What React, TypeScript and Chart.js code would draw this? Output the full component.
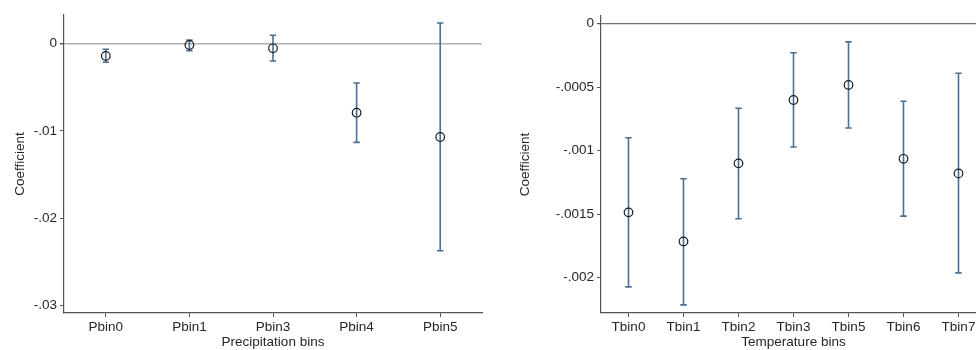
import React, { useEffect, useRef } from "react";
import { Chart, registerables } from "chart.js";

Chart.register(...registerables);

// ---- Precipitation panel data ----
const precipBins = ["Pbin0", "Pbin1", "Pbin3", "Pbin4", "Pbin5"];
const precipCoef = [-0.00141, -0.00015, -0.00053, -0.00791, -0.0107];
const precipLow = [-0.00213, -0.0008, -0.00198, -0.01131, -0.02374];
const precipHigh = [-0.00064, 0.00042, 0.00096, -0.00451, 0.00237];
const precipTicks = [0, -0.01, -0.02, -0.03];

// ---- Temperature panel data ----
const tempBins = ["Tbin0", "Tbin1", "Tbin2", "Tbin3", "Tbin5", "Tbin6", "Tbin7"];
const tempCoef = [-0.001487, -0.001716, -0.001101, -0.000602, -0.000483, -0.001065, -0.00118];
const tempLow = [-0.002074, -0.002216, -0.001538, -0.000972, -0.000823, -0.001517, -0.001964];
const tempHigh = [-0.000899, -0.001222, -0.000667, -0.000229, -0.000144, -0.000612, -0.000391];
const tempTicks = [0, -0.0005, -0.001, -0.0015, -0.002];

const FONT = "'Liberation Sans', Arial, sans-serif";
const TEXT = "#262626";
const AXIS = "#555555";
const BAR = "#4a6f94";

const fmt = (v: number) => (v === 0 ? "0" : String(v).replace(/^(-?)0\./, "$1."));

type PanelCfg = {
  cats: string[];
  coef: number[];
  low: number[];
  high: number[];
  yTicks: number[];
  yMin: number;
  yMax: number;
  xMax: number;
  yWidth: number;
  titlePad: number;
  padTop: number;
  padRight: number;
  xTitle: string;
  zeroColor: string;
  zeroWidth: number;
};

function makeErrorBarPlugin(cfg: PanelCfg) {
  return {
    id: "errorBars",
    beforeDatasetsDraw(chart: any) {
      const { ctx, scales } = chart;
      const xs = scales.x;
      const ys = scales.y;
      ctx.save();
      ctx.strokeStyle = BAR;
      ctx.lineWidth = 1.6;
      cfg.cats.forEach((_, i) => {
        const x = xs.getPixelForValue(i);
        const y1 = ys.getPixelForValue(cfg.low[i]);
        const y2 = ys.getPixelForValue(cfg.high[i]);
        ctx.beginPath();
        ctx.moveTo(x, y1);
        ctx.lineTo(x, y2);
        ctx.moveTo(x - 3.2, y1);
        ctx.lineTo(x + 3.2, y1);
        ctx.moveTo(x - 3.2, y2);
        ctx.lineTo(x + 3.2, y2);
        ctx.stroke();
      });
      ctx.restore();
    },
  };
}

function Panel({ cfg, left, width }: { cfg: PanelCfg; left: number; width: number }) {
  const ref = useRef<HTMLCanvasElement>(null);
  useEffect(() => {
    if (!ref.current) return;
    const chart = new Chart(ref.current, {
      type: "scatter",
      data: {
        datasets: [
          {
            data: cfg.coef.map((y, i) => ({ x: i, y })),
            showLine: false,
            pointRadius: 4.3,
            pointBorderWidth: 1.2,
            pointBorderColor: "#1a1a1a",
            pointBackgroundColor: "rgba(0,0,0,0)",
          },
        ],
      },
      options: {
        responsive: false,
        animation: false,
        events: [],
        layout: { padding: { top: cfg.padTop, right: cfg.padRight, left: 0, bottom: 0 } },
        plugins: { legend: { display: false }, tooltip: { enabled: false } },
        scales: {
          x: {
            type: "linear",
            min: -0.5,
            max: cfg.xMax,
            afterBuildTicks: (s: any) => {
              s.ticks = cfg.cats.map((_, i) => ({ value: i }));
            },
            afterFit: (s: any) => {
              s.height = 37;
            },
            grid: { drawOnChartArea: false, tickLength: 4, tickColor: AXIS },
            border: { display: true, color: AXIS, width: 1.2 },
            ticks: {
              autoSkip: false,
              maxRotation: 0,
              padding: 2,
              color: TEXT,
              font: { family: FONT, size: 13.5 },
              callback: (v: any) => cfg.cats[Math.round(Number(v))] ?? "",
            },
            title: {
              display: true,
              text: cfg.xTitle,
              color: TEXT,
              font: { family: FONT, size: 13.5 },
              padding: { top: 0, bottom: 0 },
            },
          },
          y: {
            type: "linear",
            min: cfg.yMin,
            max: cfg.yMax,
            afterBuildTicks: (s: any) => {
              s.ticks = cfg.yTicks.map((v) => ({ value: v }));
            },
            afterFit: (s: any) => {
              s.width = cfg.yWidth;
            },
            grid: {
              drawOnChartArea: true,
              tickLength: 4,
              tickColor: AXIS,
              color: (c: any) => (c.tick && c.tick.value === 0 ? cfg.zeroColor : "rgba(0,0,0,0)"),
              lineWidth: (c: any) => (c.tick && c.tick.value === 0 ? cfg.zeroWidth : 1),
            },
            border: { display: true, color: AXIS, width: 1.2 },
            ticks: {
              padding: 3,
              color: TEXT,
              font: { family: FONT, size: 13.5 },
              callback: (v: any) => fmt(Number(v)),
            },
            title: {
              display: true,
              text: "Coefficient",
              color: TEXT,
              font: { family: FONT, size: 13.5 },
              padding: { top: cfg.titlePad, bottom: 0 },
            },
          },
        },
      },
      plugins: [makeErrorBarPlugin(cfg)],
    } as any);
    return () => chart.destroy();
  }, [cfg]);
  return (
    <canvas
      ref={ref}
      width={width}
      height={350}
      style={{ position: "absolute", left, top: 0, width, height: 350 }}
    />
  );
}

const precipCfg: PanelCfg = {
  cats: precipBins,
  coef: precipCoef,
  low: precipLow,
  high: precipHigh,
  yTicks: precipTicks,
  yMin: -0.03088,
  yMax: 0.00329,
  xMax: 4.5,
  yWidth: 64,
  titlePad: 12,
  padTop: 15,
  padRight: 8,
  xTitle: "Precipitation bins",
  zeroColor: "#b0b0b0",
  zeroWidth: 1.5,
};

const tempCfg: PanelCfg = {
  cats: tempBins,
  coef: tempCoef,
  low: tempLow,
  high: tempHigh,
  yTicks: tempTicks,
  yMin: -0.00228,
  yMax: 0.00006,
  xMax: 6.5,
  yWidth: 111,
  titlePad: 27,
  padTop: 16,
  padRight: 10,
  xTitle: "Temperature bins",
  zeroColor: "#707070",
  zeroWidth: 1.2,
};

export default function App() {
  return (
    <div
      style={{
        position: "fixed",
        left: 0,
        top: 0,
        width: 976,
        height: 350,
        overflow: "hidden",
        background: "#ffffff",
      }}
    >
      <Panel cfg={precipCfg} left={0} width={490} />
      <Panel cfg={tempCfg} left={490} width={506} />
    </div>
  );
}
